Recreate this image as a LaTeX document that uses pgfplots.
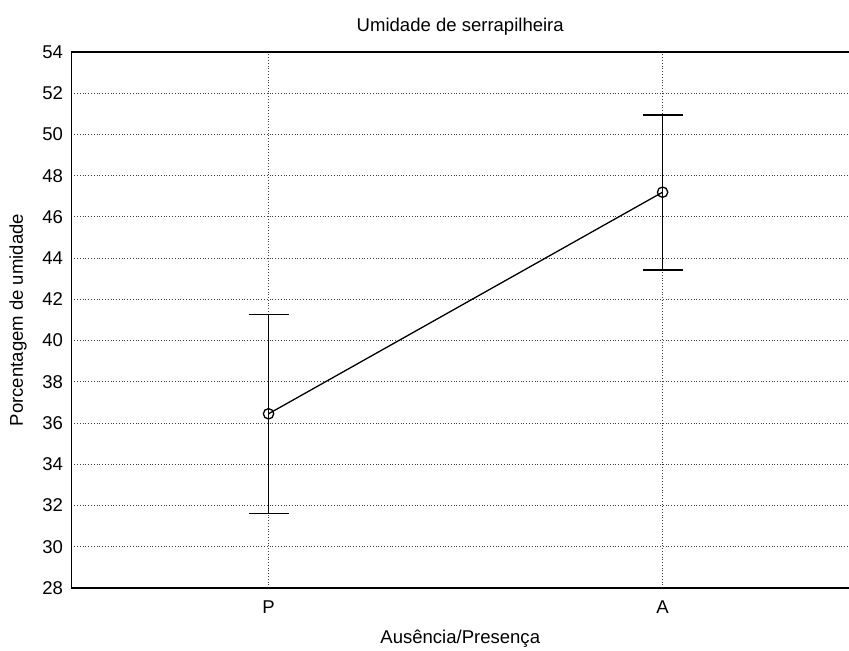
\documentclass[border=0pt]{standalone}
\usepackage{fontspec}
\setmainfont{Liberation Sans}
\usepackage{pgfplots}
\pgfplotsset{compat=1.18}
\begin{document}
\begin{tikzpicture}
\fontsize{9.3}{11}\selectfont
\begin{axis}[
  name=ax,
  scale only axis,
  width=388.75bp, height=268bp,
  xmin=-0.5, xmax=1.473,
  ymin=28, ymax=54,
  ytick={28,30,...,54},
  xtick={0,1}, xticklabels={P,A},
  /pgf/number format/assume math mode=true,
  tick label style={font=\fontsize{9.3}{11}\selectfont},
  label style={font=\fontsize{9.3}{11}\selectfont},
  major tick length=0pt,
  axis lines*=left,
  axis line style={line width=0.8pt, -},
  grid=major,
  major grid style={densely dotted, black!75, line width=0.5pt},
  title={Umidade de serrapilheira},
  every axis title/.style={at={(0.5,1)}, anchor=base, yshift=10.2bp, font=\fontsize{9.3}{11}\selectfont},
  xlabel={Ausência/Presença},
  every axis x label/.style={at={(0.5,0)}, anchor=center, yshift=-25.5bp},
  ylabel={Porcentagem de umidade},
  every axis y label/.style={at={(0,0.5)}, anchor=center, rotate=90, yshift=26.75bp},
  xticklabel style={yshift=-3bp},
  yticklabel style={xshift=-1bp},
  clip=false,
]
\addplot[black, line width=0.65pt, mark=o, mark size=2.6pt,
  mark options={fill=white, line width=0.65pt},
  error bars/.cd, y dir=both, y explicit,
  error bar style={line width=0.65pt},
  error mark options={rotate=90, mark size=10bp, line width=0.65pt}]
  table[x=x, y=y, y error plus=ep, y error minus=em] {
x y ep em
0 36.45 4.80 4.85
1 47.20 3.75 3.78
};
\draw[line width=0.8pt] (rel axis cs:0,1) -- (rel axis cs:1,1);
\end{axis}
\pgfresetboundingbox
\path[use as bounding box] ([shift={(-35.75bp,-31.5bp)}]ax.south west) rectangle ([shift={(0bp,26bp)}]ax.north east);
\end{tikzpicture}
\end{document}
